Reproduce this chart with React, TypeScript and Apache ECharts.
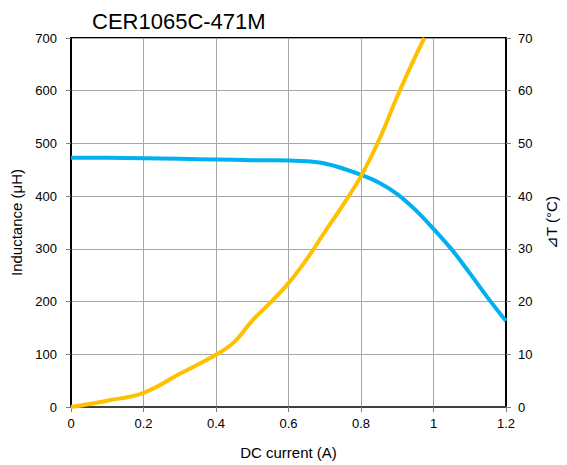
import React, { useEffect, useRef } from "react";
import * as echarts from "echarts";

const currentL = [0, 0.1, 0.2, 0.3, 0.4, 0.5, 0.55, 0.6, 0.65, 0.7, 0.75, 0.8, 0.85, 0.9, 0.95, 1.0, 1.05, 1.1, 1.15, 1.2];
const inductance = [473, 472.7, 472, 470.8, 469.5, 468.3, 468, 467.5, 466.3, 462, 452.5, 440.5, 425.5, 404, 374, 338, 299, 254, 207, 163];

const currentT = [0, 0.1, 0.2, 0.3, 0.4, 0.45, 0.5, 0.55, 0.6, 0.65, 0.7, 0.75, 0.8, 0.85, 0.9, 0.95, 0.975];
const deltaT = [0, 1.2, 2.7, 6.3, 9.9, 12.3, 16.4, 19.8, 23.5, 28, 33.2, 38.3, 43.8, 50.7, 58.9, 66.5, 70];

const title = "CER1065C-471M";
const font = "'Liberation Sans', Arial, sans-serif";

export default function App() {
  const ref = useRef<HTMLDivElement>(null);
  useEffect(() => {
    if (!ref.current) return;
    const chart = echarts.init(ref.current, null, { renderer: "svg" });
    const grayLine = { lineStyle: { color: "#a6a6a6", width: 1 } };
    chart.setOption({
      animation: false,
      textStyle: { fontFamily: font },
      title: {
        text: title,
        left: 87,
        top: 5,
        textStyle: { fontFamily: font, fontSize: 22, fontWeight: "normal", color: "#000" },
      },
      grid: {
        left: 71,
        right: 57,
        top: 38,
        bottom: 58,
        show: true,
        borderColor: "#000",
        borderWidth: 2,
      },
      xAxis: {
        type: "value",
        min: 0,
        max: 1.2,
        interval: 0.2,
        name: "DC current (A)",
        nameLocation: "middle",
        nameGap: 38,
        nameTextStyle: { fontSize: 15, color: "#000", fontFamily: font },
        axisLine: { show: true, lineStyle: { color: "#404040", width: 2 } },
        axisTick: { show: true, length: 5, lineStyle: { color: "#808080" } },
        axisLabel: {
          fontSize: 13,
          color: "#000",
          margin: 10,
          fontFamily: font,
          formatter: (v: number) => String(Math.round(v * 10) / 10),
        },
        splitLine: { show: true, ...grayLine },
      },
      yAxis: [
        {
          type: "value",
          min: 0,
          max: 700,
          interval: 100,
          name: "Inductance (μH)",
          nameLocation: "middle",
          nameRotate: 90,
          nameGap: 47,
          nameTextStyle: { fontSize: 15, color: "#000", fontFamily: font },
          axisLine: { show: true, lineStyle: { color: "#000", width: 2 } },
          axisTick: { show: true, length: 5, lineStyle: { color: "#808080" } },
          axisLabel: { fontSize: 13, color: "#000", margin: 14, fontFamily: font },
          splitLine: { show: true, ...grayLine },
        },
        {
          type: "value",
          min: 0,
          max: 70,
          interval: 10,
          position: "right",
          name: "⊿T (°C)",
          nameLocation: "middle",
          nameRotate: 90,
          nameGap: 38,
          nameTextStyle: { fontSize: 15, color: "#000", fontFamily: font },
          axisLine: { show: true, lineStyle: { color: "#000", width: 2 } },
          axisTick: { show: true, length: 5, lineStyle: { color: "#808080" } },
          axisLabel: { fontSize: 13, color: "#000", margin: 12, fontFamily: font },
          splitLine: { show: false },
        },
      ],
      series: [
        {
          type: "line",
          yAxisIndex: 0,
          data: currentL.map((x, i) => [x, inductance[i]]),
          smooth: 0.4,
          symbol: "none",
          lineStyle: { color: "#00b0f0", width: 4 },
          clip: true,
        },
        {
          type: "line",
          yAxisIndex: 1,
          data: currentT.map((x, i) => [x, deltaT[i]]),
          smooth: 0.4,
          symbol: "none",
          lineStyle: { color: "#ffc000", width: 4 },
          clip: true,
        },
      ],
    });
    return () => chart.dispose();
  }, []);
  return <div ref={ref} style={{ width: 567, height: 465, position: "absolute", left: 0, top: 0 }} />;
}
